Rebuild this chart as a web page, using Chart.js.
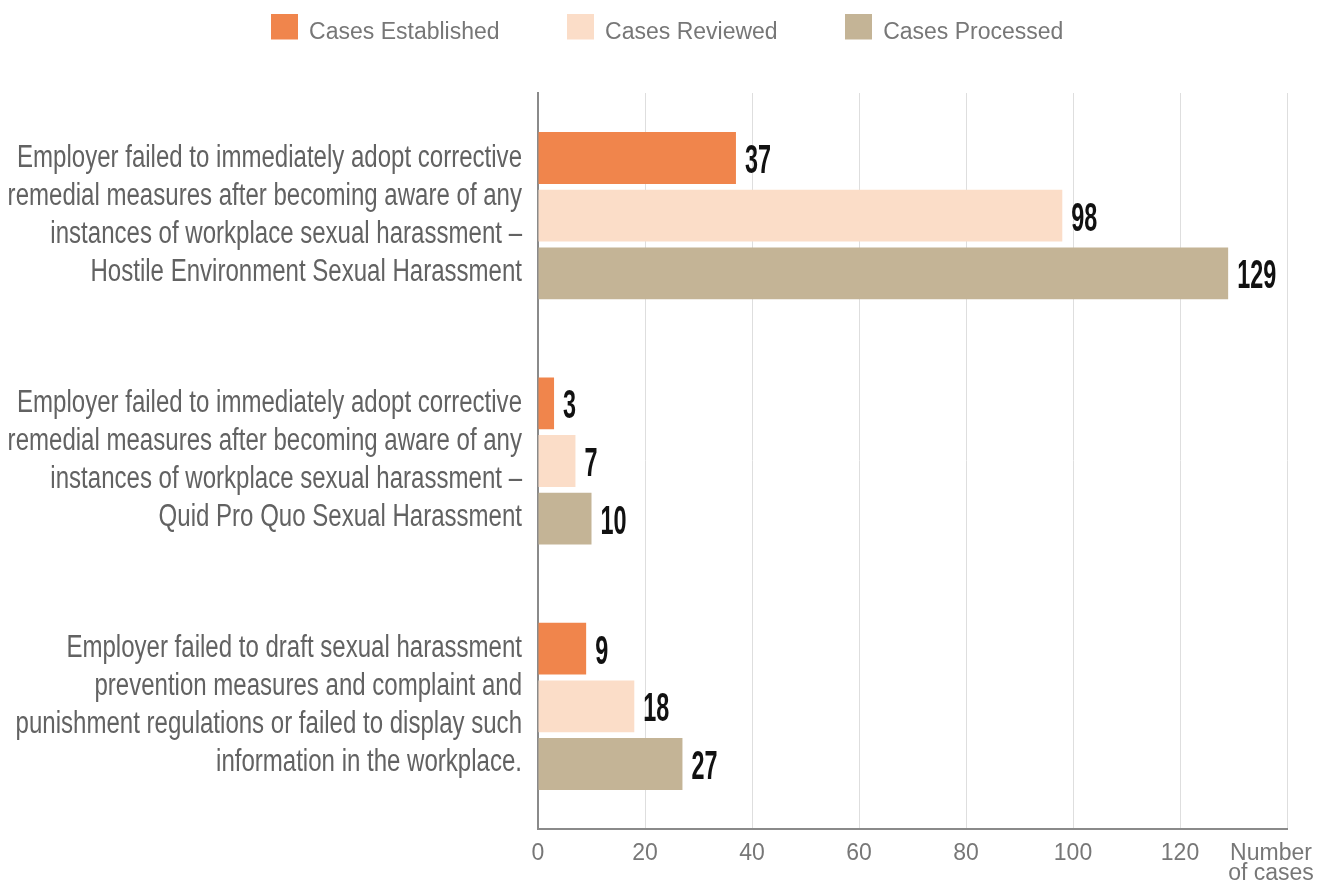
<!DOCTYPE html>
<html><head><meta charset="utf-8">
<script src="https://cdn.jsdelivr.net/npm/chart.js@4/dist/chart.umd.min.js"></script>
<style>html,body{margin:0;padding:0;background:#fff}#wrap{width:1334px;height:885px}</style>
</head><body><div id="wrap"><canvas id="c" width="1334" height="885"></canvas></div>
<script>
const categories = [
  ["Employer failed to immediately adopt corrective","remedial measures after becoming aware of any","instances of workplace sexual harassment –","Hostile Environment Sexual Harassment"],
  ["Employer failed to immediately adopt corrective","remedial measures after becoming aware of any","instances of workplace sexual harassment –","Quid Pro Quo Sexual Harassment"],
  ["Employer failed to draft sexual harassment","prevention measures and complaint and","punishment regulations or failed to display such","information in the workplace."]
];
const seriesNames = ["Cases Established","Cases Reviewed","Cases Processed"];
const casesEstablished = [37, 3, 9];
const casesReviewed = [98, 7, 18];
const casesProcessed = [129, 10, 27];
const xTicks = [0, 20, 40, 60, 80, 100, 120, 140];
const xAxisTitle = ["Number     ","of cases     "];
const colors = ["#F0854C","#FBDDC8","#C4B496"];

const sans = "'Liberation Sans',Arial,sans-serif";

// legend swatch: 27x26 square, drawn slightly above the text's middle
function swatch(color){
  const c = document.createElement('canvas');
  c.width = 27; c.height = 38;
  const g = c.getContext('2d');
  g.fillStyle = color;
  g.fillRect(0, 0, 27, 26);
  return c;
}

const legendMargin = {
  id:'legendMargin',
  beforeInit(chart){
    const fit = chart.legend.fit;
    chart.legend.fit = function(){ fit.bind(chart.legend)(); this.height += 39; };
  }
};

// category labels drawn at the y-scale's own tick positions, condensed horizontally
const categoryLabels = {
  id:'categoryLabels',
  afterDraw(chart){
    const ctx = chart.ctx, ys = chart.scales.y;
    ctx.save();
    ctx.font = "31px " + sans;
    ctx.fillStyle = "#626262";
    ctx.textAlign = "right";
    ctx.textBaseline = "alphabetic";
    const sx = 505 / ctx.measureText(categories[0][0]).width;
    const xr = ys.right - 16;
    chart.data.labels.forEach((lines, i) => {
      const cy = ys.getPixelForValue(i) - 3;
      lines.forEach((line, k) => {
        const by = cy + (k - (lines.length - 1) / 2) * 38 + 11;
        ctx.save();
        ctx.translate(xr, by);
        ctx.scale(sx, 1);
        ctx.fillText(line, 0, 0);
        ctx.restore();
      });
    });
    ctx.restore();
  }
};

const valueLabels = {
  id:'valueLabels',
  afterDatasetsDraw(chart){
    const ctx = chart.ctx;
    ctx.save();
    ctx.font = "bold 41px " + sans;
    ctx.fillStyle = "#111";
    ctx.textAlign = "left";
    ctx.textBaseline = "alphabetic";
    const sx = 26 / ctx.measureText("10").width;
    chart.data.datasets.forEach((ds,i)=>{
      chart.getDatasetMeta(i).data.forEach((bar,j)=>{
        ctx.save();
        ctx.translate(bar.x + 9, bar.y + 15);
        ctx.scale(sx, 1);
        ctx.fillText(String(ds.data[j]), 0, 0);
        ctx.restore();
      });
    });
    ctx.restore();
  }
};

new Chart(document.getElementById('c'), {
  type:'bar',
  data:{
    labels: categories,
    datasets: [
      {label: seriesNames[0], data: casesEstablished, backgroundColor: colors[0], pointStyle: swatch(colors[0])},
      {label: seriesNames[1], data: casesReviewed, backgroundColor: colors[1], pointStyle: swatch(colors[1])},
      {label: seriesNames[2], data: casesProcessed, backgroundColor: colors[2], pointStyle: swatch(colors[2])}
    ]
  },
  options:{
    indexAxis:'y',
    responsive:false,
    animation:false,
    layout:{padding:{top:-46,left:0,right:0,bottom:0}},
    datasets:{bar:{categoryPercentage:0.705, barPercentage:0.9}},
    plugins:{
      tooltip:{enabled:false},
      legend:{
        position:'top',
        labels:{usePointStyle:true, pointStyleWidth:27, boxWidth:27, boxHeight:26, padding:67, color:'#777', font:{family:sans, size:23}}
      }
    },
    scales:{
      x:{
        min:0, max:140,
        afterBuildTicks(scale){ scale.ticks = xTicks.map(v=>({value:v})); },
        afterFit(scale){ scale.height = 56; scale.paddingLeft = 0; scale.paddingRight = 47; },
        border:{display:true, color:'#8a8a8a', width:2},
        grid:{color:'#dedede', lineWidth:1, drawTicks:false},
        ticks:{
          autoSkip:false,
          padding:15, color:'#777', maxRotation:0, minRotation:0,
          font:{family:sans, size:23, lineHeight:0.87},
          callback:(v)=> v===140 ? xAxisTitle : String(v)
        }
      },
      y:{
        afterFit(scale){ scale.width = 538; scale.paddingTop = 0; scale.paddingBottom = 0; },
        border:{display:true, color:'#8a8a8a', width:2},
        grid:{display:false, drawTicks:false},
        ticks:{ display:false }
      }
    }
  },
  plugins:[legendMargin, categoryLabels, valueLabels]
});
</script></body></html>
